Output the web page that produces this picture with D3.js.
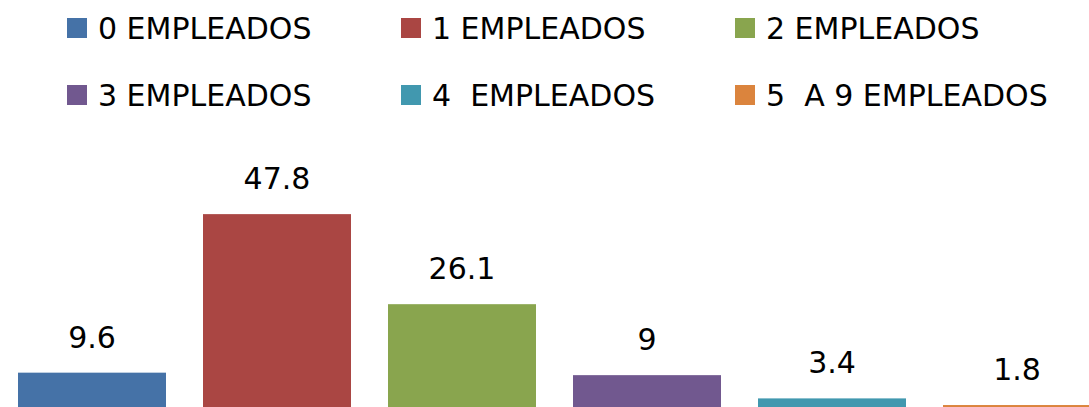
<!DOCTYPE html>
<html>
<head>
<meta charset="utf-8">
<script src="https://cdnjs.cloudflare.com/ajax/libs/d3/7.8.5/d3.min.js"></script>
<style>
  html, body { margin: 0; padding: 0; background: #fff; overflow: hidden; }
  svg { display: block; }
  text { white-space: pre; }
</style>
</head>
<body>
<svg id="chart"></svg>
<script>
// Chart data
const categories = ["0 EMPLEADOS", "1 EMPLEADOS", "2 EMPLEADOS", "3 EMPLEADOS", "4  EMPLEADOS", "5  A 9 EMPLEADOS"];
const values = [9.6, 47.8, 26.1, 9, 3.4, 1.8];
const colors = ["#4572A7", "#AA4643", "#89A54E", "#71588F", "#4198AF", "#DB843D"];

const width = 1089;
const height = 407;
const font = "'DejaVu Sans', Verdana, sans-serif";

const svg = d3.select("#chart")
  .attr("width", width)
  .attr("height", height);

// Scales (baseline sits just below the visible area, as in the source)
const xScale = d3.scaleBand()
  .domain(categories)
  .range([-0.5, 1109.5])
  .paddingInner(0.2)
  .paddingOuter(0.1);

const yScale = d3.scaleLinear()
  .domain([0, 50])
  .range([412.5, 205]);

// Bars
svg.selectAll(".bar")
  .data(values)
  .enter()
  .append("rect")
  .attr("class", "bar")
  .attr("x", (d, i) => xScale(categories[i]))
  .attr("y", (d) => yScale(d))
  .attr("width", xScale.bandwidth())
  .attr("height", (d) => yScale(0) - yScale(d))
  .attr("fill", (d, i) => colors[i]);

// Value labels
svg.selectAll(".value")
  .data(values)
  .enter()
  .append("text")
  .attr("class", "value")
  .attr("x", (d, i) => xScale(categories[i]) + xScale.bandwidth() / 2)
  .attr("y", (d) => yScale(d) - 25)
  .attr("text-anchor", "middle")
  .attr("font-family", font)
  .attr("font-size", "30px")
  .attr("fill", "#000")
  .text((d) => d);

// Legend: 2 rows x 3 columns
const legendCols = [67, 401, 735];
const legendRows = [18, 85];

const legend = svg.selectAll(".legend")
  .data(categories)
  .enter()
  .append("g")
  .attr("class", "legend")
  .attr("transform", (d, i) => `translate(${legendCols[i % 3]},${legendRows[Math.floor(i / 3)]})`);

legend.append("rect")
  .attr("width", 20)
  .attr("height", 20)
  .attr("fill", (d, i) => colors[i]);

legend.append("text")
  .attr("x", 31)
  .attr("y", 21)
  .attr("font-family", font)
  .attr("font-size", "30px")
  .attr("fill", "#000")
  .text((d) => d);
</script>
</body>
</html>
